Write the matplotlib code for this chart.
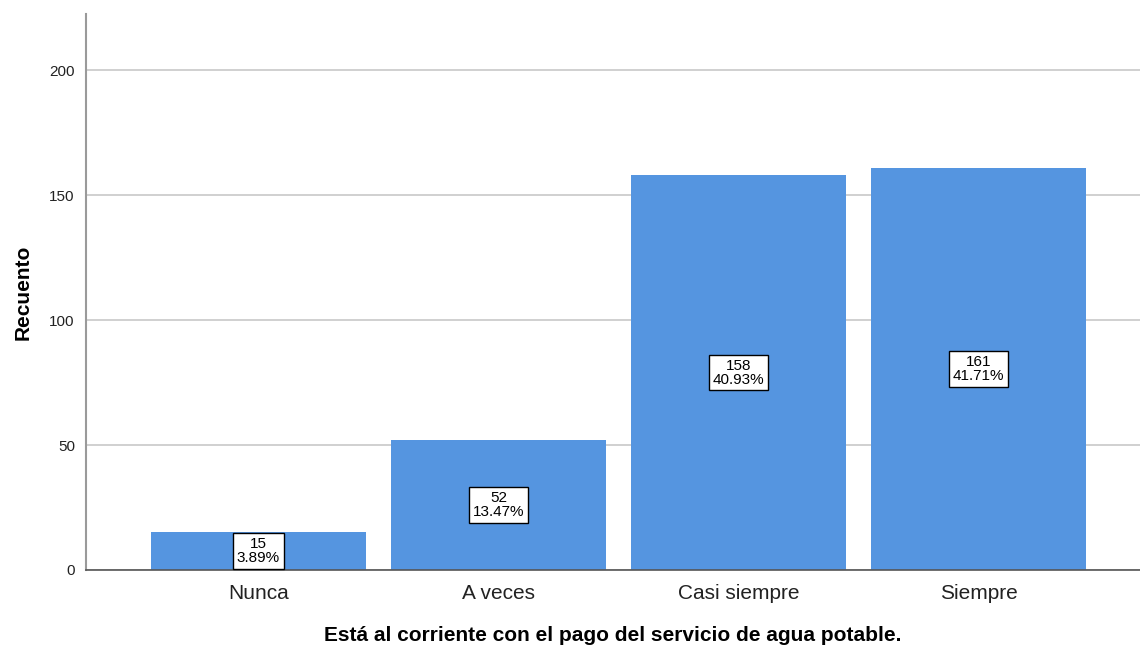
import numpy as np
import matplotlib.pyplot as plt

categories = ["Nunca", "A veces", "Casi siempre", "Siempre"]
counts = [15, 52, 158, 161]
percents = ["3.89%", "13.47%", "40.93%", "41.71%"]

plt.rcParams['font.family'] = ['Liberation Sans', 'DejaVu Sans']

fig = plt.figure(figsize=(11.4, 6.48), dpi=100)
ax = fig.add_axes([0.0754, 0.1204, 0.9246, 0.8576])

x = np.arange(len(categories))
ax.bar(x, counts, width=0.896, color="#5595e0", zorder=2)

for xi, c, p in zip(x, counts, percents):
    ax.text(xi, c / 2, f"{c}\n{p}", ha="center", va="center", fontsize=11,
            linespacing=1.0, zorder=3,
            bbox=dict(boxstyle="square,pad=0.25", fc="white", ec="black", lw=1))

ax.set_xlim(-0.719, 3.673)
ax.set_ylim(0, 222.4)
ax.set_yticks([0, 50, 100, 150, 200])
ax.set_xticks(x)
ax.set_xticklabels(categories, fontsize=15)
ax.tick_params(axis="x", length=0, pad=10, colors="#222222")
ax.tick_params(axis="y", length=0, pad=8, labelsize=11, colors="#222222")

ax.yaxis.grid(True, color="#c8c8c8", lw=1.2, zorder=0)
ax.set_axisbelow(True)
for s in ["top", "right"]:
    ax.spines[s].set_visible(False)
ax.spines["left"].set_color("#9a9a9a")
ax.spines["left"].set_linewidth(1.5)
ax.spines["bottom"].set_color("#555555")
ax.spines["bottom"].set_linewidth(1.2)

ax.set_ylabel("Recuento", fontsize=15, fontweight="bold", labelpad=12)
ax.set_xlabel("Está al corriente con el pago del servicio de agua potable.",
              fontsize=15, fontweight="bold", labelpad=17)

fig.savefig("out.png", dpi=100)
